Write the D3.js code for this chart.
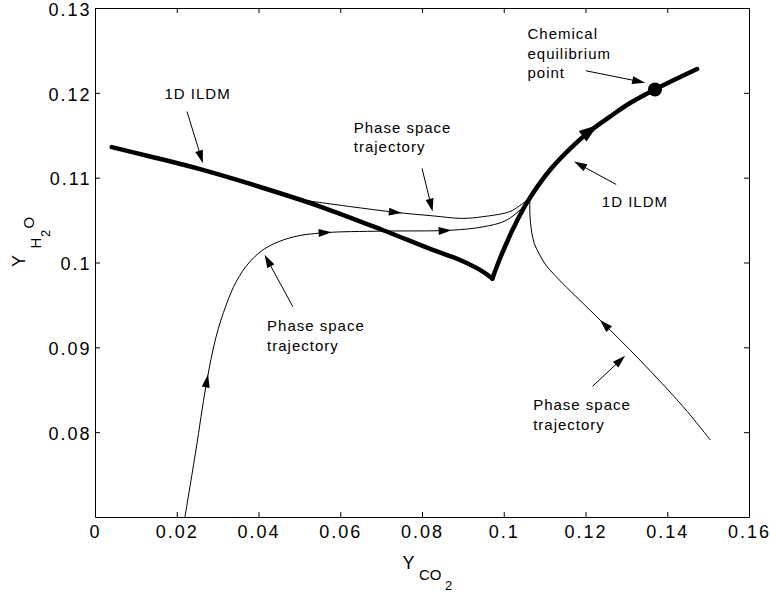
<!DOCTYPE html>
<html><head><meta charset="utf-8">
<script src="https://cdn.jsdelivr.net/npm/d3@7"></script>
<style>body{margin:0;background:#fff}</style>
</head><body>
<svg id="chart" width="770" height="596"></svg>
<script>
// ---------- data ----------
const xTicks = [0, 0.02, 0.04, 0.06, 0.08, 0.10, 0.12, 0.14, 0.16];
const xTickLabels = ["0", "0.02", "0.04", "0.06", "0.08", "0.1", "0.12", "0.14", "0.16"];
const yTicks = [0.08, 0.09, 0.10, 0.11, 0.12, 0.13];
const yTickLabels = ["0.08", "0.09", "0.1", "0.11", "0.12", "0.13"];

// 1D ILDM (thick curve), two branches meeting at the cusp
const ildmLeft = [
  [0.0041, 0.1136], [0.0135, 0.1125], [0.0257, 0.1110], [0.0404, 0.1089],
  [0.0551, 0.1066], [0.0705, 0.1038], [0.0820, 0.1016], [0.0893, 0.1003],
  [0.0950, 0.0989], [0.0972, 0.0981]
];
const ildmRight = [
  [0.0972, 0.0981], [0.0991, 0.1005], [0.1007, 0.1023], [0.1023, 0.1040],
  [0.1056, 0.1070], [0.1113, 0.1109], [0.1162, 0.1134], [0.1211, 0.1155],
  [0.1260, 0.1172], [0.1309, 0.1188], [0.1370, 0.1204], [0.1473, 0.1228]
];
// phase space trajectories
const trajUpper = [
  [0.0502, 0.1074], [0.0623, 0.1066], [0.0738, 0.1059], [0.0826, 0.1055],
  [0.0898, 0.1052], [0.0949, 0.1054], [0.1015, 0.1060], [0.1039, 0.1067], [0.1064, 0.1076]
];
const trajLower = [
  [0.0220, 0.0700], [0.0247, 0.0779], [0.0272, 0.0856], [0.0296, 0.0912],
  [0.0321, 0.0950], [0.0345, 0.0977], [0.0379, 0.1001], [0.0421, 0.1018],
  [0.0484, 0.1030], [0.0558, 0.1035], [0.0705, 0.1037], [0.0869, 0.1038],
  [0.0949, 0.1042], [0.1003, 0.1049], [0.1040, 0.1062], [0.1064, 0.1076]
];
const trajRight = [
  [0.1505, 0.0791], [0.1439, 0.0830], [0.1333, 0.0885], [0.1236, 0.0932],
  [0.1145, 0.0975], [0.1123, 0.0986], [0.1103, 0.0997], [0.1088, 0.1009],
  [0.1075, 0.1022], [0.1068, 0.1037], [0.1064, 0.1056], [0.1064, 0.1076]
];
const equilibriumPoint = [0.1370, 0.1204];

// direction arrows sitting on the curves
const curveArrowCurves = ["trajUpper", "trajLower", "trajLower", "trajLower", "trajRight", "ildmRight"];
const curveArrowAxis   = ["x", "y", "x", "x", "y", "x"];
const curveArrowValue  = [0.0750, 0.0868, 0.0578, 0.0872, 0.0932, 0.1230];

// annotation arrows: from (text side) -> to (tip)
const annotFrom = [[0.0225, 0.1178], [0.0800, 0.1111], [0.0484, 0.0948], [0.1201, 0.1226], [0.1275, 0.1092], [0.1217, 0.0854]];
const annotTo   = [[0.0264, 0.1117], [0.0826, 0.1060], [0.0415, 0.1009], [0.1346, 0.1212], [0.1172, 0.1119], [0.1297, 0.0890]];

// annotation texts (first-line baseline anchor)
const labelLines = [["1D ILDM"], ["Phase space", "trajectory"], ["Phase space", "trajectory"],
                    ["Chemical", "equilibrium", "point"], ["1D ILDM"], ["Phase space", "trajectory"]];
const labelAt = [[0.0170, 0.1193], [0.0633, 0.1153], [0.0421, 0.0919], [0.1058, 0.1263], [0.1240, 0.1066], [0.1072, 0.0826]];

// ---------- drawing ----------
const svg = d3.select("#chart");
const FONT = "'Liberation Sans', Arial, Helvetica, sans-serif";
const x = d3.scaleLinear().domain([0, 0.16]).range([95, 749]);
const y = d3.scaleLinear().domain([0.07, 0.13]).range([517, 8]);

svg.append("rect").attr("width", 770).attr("height", 596).attr("fill", "#fff");

// axes (box with inward ticks)
const gB = svg.append("g").attr("transform", `translate(0,${y(0.07)})`)
  .call(d3.axisBottom(x).tickValues(xTicks).tickFormat((d, i) => xTickLabels[i])
    .tickSizeInner(-5).tickSizeOuter(0).tickPadding(8));
const gL = svg.append("g").attr("transform", `translate(${x(0)},0)`)
  .call(d3.axisLeft(y).tickValues(yTicks).tickFormat((d, i) => yTickLabels[i])
    .tickSizeInner(-5).tickSizeOuter(0).tickPadding(3.5));
const gT = svg.append("g").attr("transform", `translate(0,${y(0.13)})`)
  .call(d3.axisTop(x).tickValues(xTicks).tickFormat("").tickSizeInner(-5).tickSizeOuter(0));
const gR = svg.append("g").attr("transform", `translate(${x(0.16)},0)`)
  .call(d3.axisRight(y).tickValues(yTicks).tickFormat("").tickSizeInner(-5).tickSizeOuter(0));
[gB, gL, gT, gR].forEach(g => {
  g.attr("font-family", FONT).attr("font-size", 18);
  g.selectAll("path,line").attr("stroke", "#000").attr("stroke-width", 1);
  g.selectAll("text").attr("fill", "#000").attr("letter-spacing", "2px");
});
gL.selectAll("text").attr("dy", "0.4em");

const line = d3.line().x(d => x(d[0])).y(d => y(d[1])).curve(d3.curveCatmullRom.alpha(0.5));
const curves = {};
function drawCurve(name, data, w) {
  curves[name] = svg.append("path").datum(data).attr("d", line)
    .attr("fill", "none").attr("stroke", "#000").attr("stroke-width", w)
    .attr("stroke-linecap", "round").attr("stroke-linejoin", "round");
}
drawCurve("trajUpper", trajUpper, 1);
drawCurve("trajLower", trajLower, 1);
drawCurve("trajRight", trajRight, 1);
drawCurve("ildmLeft", ildmLeft, 4.5);
drawCurve("ildmRight", ildmRight, 4.5);

svg.append("circle").attr("cx", x(equilibriumPoint[0])).attr("cy", y(equilibriumPoint[1]))
  .attr("r", 7).attr("fill", "#000");

function headPts(tx, ty, ang, len, hw) {
  const c = Math.cos(ang), s = Math.sin(ang);
  const bx = tx - len * c, by = ty - len * s;
  return [[tx, ty], [bx - hw * s, by + hw * c], [bx + hw * s, by - hw * c]];
}
function drawHead(pts) {
  svg.append("path").attr("d", "M" + pts.map(p => p.join(",")).join("L") + "Z").attr("fill", "#000").attr("stroke", "none");
}

// arrows on curves
curveArrowCurves.forEach((name, i) => {
  const node = curves[name].node();
  const L = node.getTotalLength();
  const target = curveArrowAxis[i] === "x" ? x(curveArrowValue[i]) : y(curveArrowValue[i]);
  let prev = node.getPointAtLength(0), found = L;
  for (let l = 0.5; l <= L; l += 0.5) {
    const p = node.getPointAtLength(l);
    const a = curveArrowAxis[i] === "x" ? prev.x - target : prev.y - target;
    const b = curveArrowAxis[i] === "x" ? p.x - target : p.y - target;
    if (a * b <= 0) { found = l; break; }
    prev = p;
  }
  const tip = node.getPointAtLength(found);
  const back = node.getPointAtLength(Math.max(0, found - 4));
  const ang = Math.atan2(tip.y - back.y, tip.x - back.x);
  const thick = name.startsWith("ildm");
  drawHead(headPts(tip.x, tip.y, ang, thick ? 19 : 13, thick ? 6.5 : 4));
});

// annotation arrows
annotFrom.forEach((f, i) => {
  const t = annotTo[i];
  const fx = x(f[0]), fy = y(f[1]), tx = x(t[0]), ty = y(t[1]);
  const ang = Math.atan2(ty - fy, tx - fx);
  svg.append("line").attr("x1", fx).attr("y1", fy)
    .attr("x2", tx - 6 * Math.cos(ang)).attr("y2", ty - 6 * Math.sin(ang))
    .attr("stroke", "#000").attr("stroke-width", 1);
  drawHead(headPts(tx, ty, ang, 13, 4));
});

// annotation texts
labelLines.forEach((lines, i) => {
  const t = svg.append("text").attr("font-family", FONT).attr("font-size", 15)
    .attr("letter-spacing", "1px").attr("fill", "#000");
  lines.forEach((s, j) => {
    t.append("tspan").attr("x", x(labelAt[i][0])).attr("y", y(labelAt[i][1]) + j * 19.5).text(s);
  });
});

// axis titles
function txt(s, px, py, size, rot) {
  const t = svg.append("text").attr("x", px).attr("y", py).attr("font-family", FONT)
    .attr("font-size", size).attr("fill", "#000").text(s);
  if (rot) t.attr("transform", `rotate(-90,${px},${py})`);
}
txt("Y", 402.5, 568.5, 18, false);
txt("CO", 419, 579.5, 15, false);
txt("2", 445, 590, 13, false);
txt("Y", 25, 267, 18, true);
txt("H", 41, 248.5, 15, true);
txt("2", 50, 237, 13, true);
txt("O", 34, 228.5, 15, true);
</script>
</body></html>
